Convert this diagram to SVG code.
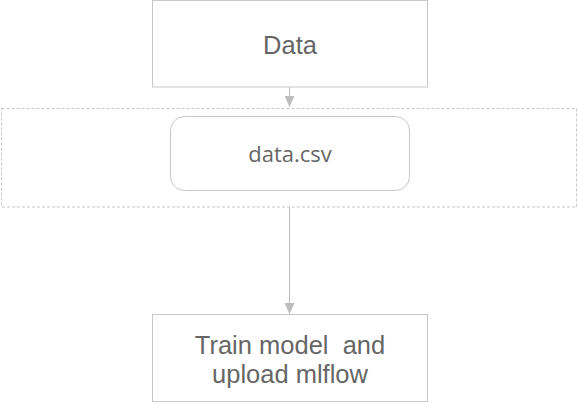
<svg xmlns="http://www.w3.org/2000/svg" width="578" height="406" viewBox="0 0 578 406">
<style>
.box{fill:#fff;stroke:#c8c8c8;stroke-width:1}
.cont{fill:none;stroke:#c8c8c8;stroke-width:1;stroke-dasharray:3 2}
.t{font-family:"Liberation Sans",Arial,sans-serif;font-size:25.5px;fill:#666;text-anchor:middle;white-space:pre}
.t2{font-family:"Open Sans","Noto Sans",sans-serif;font-size:22px;fill:#666;text-anchor:middle}
.ln{stroke:#bdbdbd;stroke-width:1;fill:none}
</style>
<defs>
<marker id="ah" viewBox="0 0 11 10" refX="11" refY="5" markerWidth="11" markerHeight="10" markerUnits="userSpaceOnUse" orient="auto">
<path d="M0,0 L11,5 L0,10 Z" fill="#bdbdbd"/>
</marker>
</defs>
<g id="container">
<rect class="cont" x="1.5" y="108.5" width="575" height="98.5"/>
</g>
<g id="connectors">
<line class="ln" x1="289.5" y1="87" x2="289.5" y2="107" marker-end="url(#ah)"/>
<line class="ln" x1="289.5" y1="207" x2="289.5" y2="314" marker-end="url(#ah)"/>
</g>
<g id="node-data">
<rect class="box" x="152.5" y="0.5" width="275" height="86.5"/>
<text class="t" x="290" y="54">Data</text>
</g>
<g id="node-csv">
<rect class="box" x="170.5" y="116.5" width="239" height="74" rx="14" ry="14"/>
<text class="t2" x="290" y="162">data.csv</text>
</g>
<g id="node-train">
<rect class="box" x="152.5" y="314.5" width="275" height="87"/>
<text class="t" x="290" y="354" xml:space="preserve">Train model  and</text>
<text class="t" x="290" y="383">upload mlflow</text>
</g>
</svg>
